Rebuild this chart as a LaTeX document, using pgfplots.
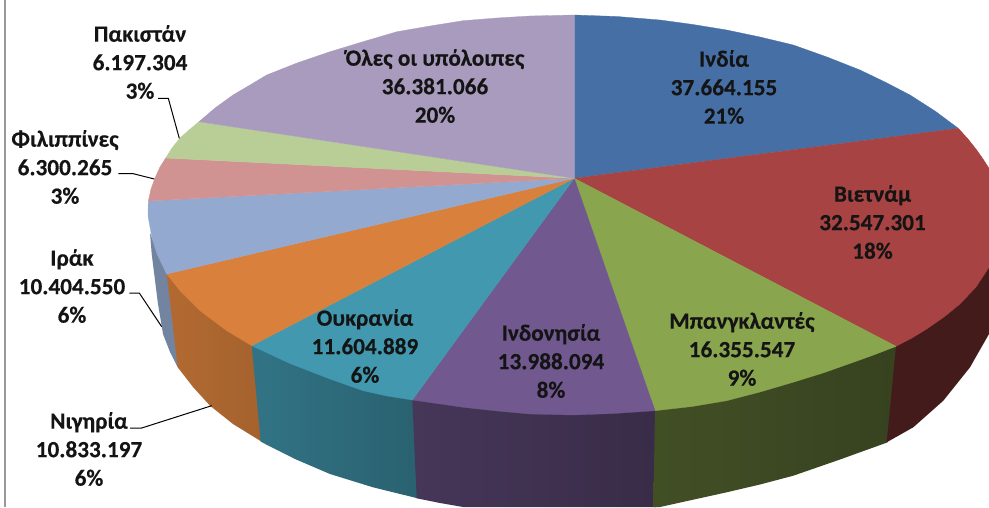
\documentclass[border=0pt]{standalone}
\usepackage{fontspec}
\setmainfont{Carlito}[BoldFeatures={FakeBold=0.3}]
\usepackage{pgfplots}
\pgfplotsset{compat=1.18}

\definecolor{cIndia}{HTML}{4670A5}
\definecolor{cViet}{HTML}{A74342}
\definecolor{cBang}{HTML}{89A54E}
\definecolor{cIndo}{HTML}{71588F}
\definecolor{cUkr}{HTML}{4198AF}
\definecolor{cNig}{HTML}{D9813C}
\definecolor{cIraq}{HTML}{93A9CF}
\definecolor{cPhil}{HTML}{D19392}
\definecolor{cPak}{HTML}{B9CD96}
\definecolor{cRest}{HTML}{A99BBD}

\tikzset{lab/.style={font=\fontsize{23.2}{28.5}\selectfont\bfseries, align=center, text=black!92, inner sep=0pt}}

\begin{document}
\begin{tikzpicture}
\begin{axis}[
    width=989pt, height=507pt, scale only axis,
    xmin=0, xmax=989, ymin=0, ymax=507,
    y dir=reverse,
    hide axis,
    clip=true,
]
% frame line on the left
\addplot[draw=black!40, line width=1.6pt] coordinates {(5,0) (5,507)};

% side walls
\addplot[draw=none, fill=cIraq!78!black] coordinates {(150,233) (151.7,254) (158,304) (163,334) (170,352) (177.7,367.3) (190,300) (166.7,274)} -- cycle;
\addplot[draw=none, left color=cNig!82!black, right color=cNig!76!black] coordinates {(166.7,274) (177.7,367.3) (193,387) (210,405.7) (233,424) (261.7,441.7) (252.7,345.7)} -- cycle;
\addplot[draw=none, left color=cUkr!76!black, right color=cUkr!64!black] coordinates {(251.7,345.7) (260.7,441.7) (295,459) (330,474) (373,487.3) (417.7,498.3) (413.3,400)} -- cycle;
\addplot[draw=none, fill=cIndo!50!black] coordinates {(500,400) (500,507) (660,507) (660,400)} -- cycle;
\addplot[draw=none, left color=cIndo!62!black, right color=cIndo!50!black] coordinates {(412.3,400) (416.7,498.3) (440,503) (463,507) (480,507) (656,507) (656,410.7)} -- cycle;
\addplot[draw=none, left color=cBang!48!black, right color=cBang!40!black] coordinates {(655,410.7) (653.3,507) (660,507) (726.7,492.3) (760,484.5) (793.3,475.7) (840,459.5) (887.7,442.3) (897,346.3)} -- cycle;
\addplot[draw=none, fill=cViet!40!black] coordinates {(896,346.3) (886.7,442.3) (913.3,427.3) (943.3,400.7) (970,367.3) (989,334) (989,267.3)} -- cycle;

% top faces
\addplot[draw=cIndia, line width=0.3pt, fill=cIndia] coordinates {(574.3,178.3) (574.3,15) (617,16.5) (660,20) (693,24.5) (726.7,30) (760,37) (793.3,45) (827,57) (860,70) (886,82.5) (910,95) (935,111) (958.3,128.3)} -- cycle;
\addplot[draw=cViet, line width=0.3pt, fill=cViet] coordinates {(574.3,178.3) (958.3,128.3) (968,139) (976.7,150) (983,159) (989,168.3) (989,267.3) (976,287) (960,304) (944,317) (926.7,329) (912,338) (896,346.3)} -- cycle;
\addplot[draw=cBang, line width=0.3pt, fill=cBang] coordinates {(574.3,178.3) (896,346.3) (875,354.5) (853.3,362.3) (823,373) (793,382.3) (760,392) (726.7,400.7) (692,406.5) (655,410.7)} -- cycle;
\addplot[draw=cIndo, line width=0.3pt, fill=cIndo] coordinates {(574.3,178.3) (655,410.7) (614,413.5) (573.3,415) (530,414) (497,411) (463.3,407.3) (437,403.5) (412.3,400)} -- cycle;
\addplot[draw=cUkr, line width=0.3pt, fill=cUkr] coordinates {(574.3,178.3) (412.3,400) (387,396) (363,390.7) (330,379) (290,363.5) (251.7,345.7)} -- cycle;
\addplot[draw=cNig, line width=0.3pt, fill=cNig] coordinates {(574.3,178.3) (251.7,345.7) (226.7,330.7) (200,310.7) (180,290.7) (166.7,274)} -- cycle;
\addplot[draw=cIraq, line width=0.3pt, fill=cIraq] coordinates {(574.3,178.3) (166.7,274) (157,254) (152,238) (148,216) (148.3,201)} -- cycle;
\addplot[draw=cPhil, line width=0.3pt, fill=cPhil] coordinates {(574.3,178.3) (148.3,201) (151,189) (155,178) (160,167) (165.7,158)} -- cycle;
\addplot[draw=cPak, line width=0.3pt, fill=cPak] coordinates {(574.3,178.3) (165.7,158) (172,148) (180,138) (189,130) (199,121.7)} -- cycle;
\addplot[draw=cRest, line width=0.3pt, fill=cRest] coordinates {(574.3,178.3) (199,121.7) (215,108) (233,95) (250,85) (266.7,75) (297,63) (330,51.7) (363,41.7) (397,31.7) (430,26) (463,20.7) (497,18) (530,16) (574.3,15)} -- cycle;

% leader lines
\addplot[black, line width=1pt] coordinates {(158,98.3) (168.3,98.3) (179.3,138.3)};
\addplot[black, line width=1pt] coordinates {(118.3,173.7) (133.3,173.7) (154.3,179)};
\addplot[black, line width=1pt] coordinates {(129.3,293) (139.3,293) (161.7,326.7)};
\addplot[black, line width=1pt] coordinates {(130,428) (141.7,428) (211.7,405.7)};

% labels
\node[lab] at (axis cs:724,87) {Ινδία\\37.664.155\\21\%};
\node[lab] at (axis cs:872.5,222) {Βιετνάμ\\32.547.301\\18\%};
\node[lab] at (axis cs:742,349) {Μπανγκλαντές\\16.355.547\\9\%};
\node[lab] at (axis cs:551,361) {Ινδονησία\\13.988.094\\8\%};
\node[lab] at (axis cs:365,346) {Ουκρανία\\11.604.889\\6\%};
\node[lab] at (axis cs:89,449) {Νιγηρία\\10.833.197\\6\%};
\node[lab] at (axis cs:72,286) {Ιράκ\\10.404.550\\6\%};
\node[lab] at (axis cs:65,167) {Φιλιππίνες\\6.300.265\\3\%};
\node[lab] at (axis cs:140,62) {Πακιστάν\\6.197.304\\3\%};
\node[lab] at (axis cs:435,86) {Όλες οι υπόλοιπες\\36.381.066\\20\%};
\end{axis}
\pgfresetboundingbox
\path (0,0) rectangle (989pt,507pt);
\end{tikzpicture}
\end{document}
